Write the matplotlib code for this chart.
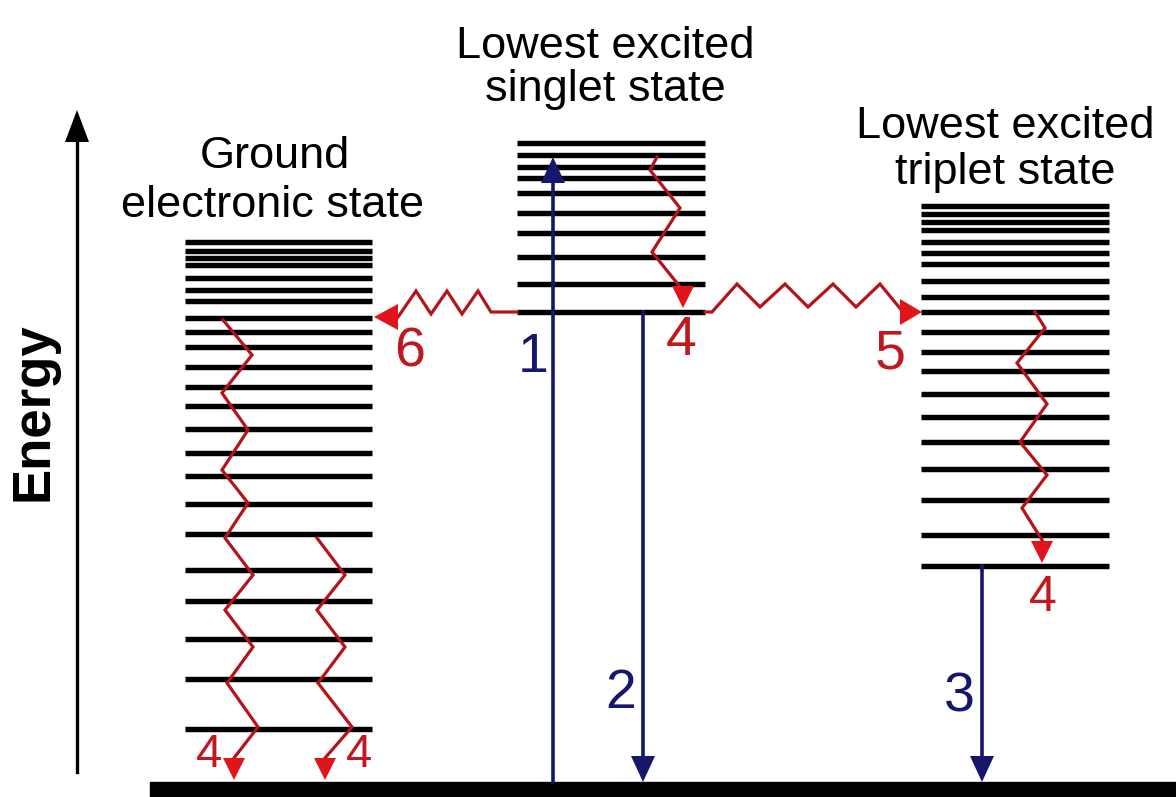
import matplotlib
matplotlib.use('Agg')
import matplotlib.pyplot as plt

# ---------------- data (pixel rows of the picture, top = 0) ----------------
ground_levels = [242, 251, 258, 265, 278, 290, 301, 318, 332, 347, 367, 387,
                 406, 429, 453, 476, 504, 534, 570, 601, 639, 679, 729]
singlet_levels = [143, 155, 167, 178, 193, 213, 233, 257, 284, 312]
triplet_levels = [206, 214, 222, 230, 242, 253, 264, 281, 297, 312, 332, 352,
                  371, 394, 417, 442, 469, 500, 535, 566]
ground_span = (185, 372)
singlet_span = (517, 705)
triplet_span = (921, 1109)

# title lines: text, x centre, baseline row
state_titles = [("Lowest excited", 605, 58), ("singlet state", 605, 101),
                ("Ground", 275, 168), ("electronic state", 273, 217),
                ("Lowest excited", 1005, 138), ("triplet state", 1005, 184)]

# radiative transitions: x, start row, end row, label, label x, label y
radiative = [(553, 782, 157, "1", 533, 358),
             (643, 312, 782, "2", 621, 694),
             (982, 566, 782, "3", 959, 698)]

# non-radiative (wavy) paths
wave_singlet = [(657, 157), (650, 170), (680, 208), (652, 252), (681, 288)]
wave_isc = [(705, 312), (712, 312), (737, 284), (760, 307), (785, 284), (808, 307),
            (833, 284), (856, 307), (880, 284), (903, 312)]
wave_ic = [(517, 312), (491, 312), (478, 291), (462, 314), (447, 291), (431, 314),
           (416, 291), (398, 317)]
wave_ground1 = [(223, 320), (252, 355), (222, 393), (248, 430), (222, 470), (248, 503),
                (225, 538), (253, 575), (225, 610), (253, 647), (227, 683), (258, 727),
                (234, 758)]
wave_ground2 = [(317, 538), (345, 575), (317, 610), (345, 647), (318, 683), (352, 727),
                (325, 758)]
wave_triplet = [(1035, 312), (1045, 328), (1017, 363), (1047, 404), (1020, 442),
                (1047, 475), (1022, 508), (1042, 540)]

red_labels = [("4", 681, 341, 40), ("5", 890, 354, 40), ("6", 410, 352, 40),
              ("4", 1043, 598, 36), ("4", 209, 755, 34), ("4", 359, 755, 34)]

# ---------------- styles ----------------
NAVY = '#16166a'
WAVE = '#b3141c'
HEAD = '#e0141a'
LBL_RED = '#c0181e'
FONT = ['Liberation Sans', 'DejaVu Sans']

fig = plt.figure(figsize=(11.76, 7.97), dpi=100)
ax = fig.add_axes([0, 0, 1, 1])
ax.set_xlim(0, 1176)
ax.set_ylim(797, 0)
ax.axis('off')


def head(tipx, tipy, direction, color, w=22, l=22):
    if direction == 'down':
        xs = [tipx - w / 2, tipx + w / 2, tipx]
        ys = [tipy - l, tipy - l, tipy]
    elif direction == 'up':
        xs = [tipx - w / 2, tipx + w / 2, tipx]
        ys = [tipy + l, tipy + l, tipy]
    elif direction == 'left':
        xs = [tipx + l, tipx + l, tipx]
        ys = [tipy - w / 2, tipy + w / 2, tipy]
    else:
        xs = [tipx - l, tipx - l, tipx]
        ys = [tipy - w / 2, tipy + w / 2, tipy]
    ax.fill(xs, ys, color=color, zorder=6, lw=0)


# energy levels
for levels, (x0, x1) in [(ground_levels, ground_span), (singlet_levels, singlet_span),
                         (triplet_levels, triplet_span)]:
    ax.hlines(levels, x0, x1, color='black', lw=3.9, zorder=2)

# baseline bar
ax.axhspan(782, 797, xmin=150 / 1176, xmax=1, color='black', zorder=3)

# energy axis
ax.plot([77, 77], [772, 135], color='black', lw=2.4, zorder=3)
head(77, 110, 'up', 'black', w=24, l=32)
ax.text(34, 412, "Energy", rotation=90, ha='center', va='center',
        fontsize=38, fontweight='bold', family=FONT, color='black')

# titles
for txt, x, y in state_titles:
    ax.text(x, y, txt, ha='center', va='baseline', fontsize=32.5, family=FONT,
            color='black')

# radiative arrows
for x, y0, y1, lab, lx, ly in radiative:
    if y1 < y0:
        ax.plot([x, x], [y0, y1 + 20], color=NAVY, lw=2.6, zorder=4)
        head(x, y1, 'up', NAVY, w=24, l=26)
    else:
        ax.plot([x, x], [y0, y1 - 20], color=NAVY, lw=2.6, zorder=4)
        head(x, y1, 'down', NAVY, w=24, l=26)
    ax.text(lx, ly, lab, ha='center', va='center', fontsize=40, family=FONT, color=NAVY)

# wavy paths
for path in [wave_singlet, wave_isc, wave_ic, wave_ground1, wave_ground2, wave_triplet]:
    xs = [p[0] for p in path]
    ys = [p[1] for p in path]
    ax.plot(xs, ys, color=WAVE, lw=2.3, zorder=5, solid_joinstyle='miter')

head(683, 308, 'down', HEAD)
head(922, 312, 'right', HEAD, w=26, l=22)
head(374, 317, 'left', HEAD, w=26, l=24)
head(234, 780, 'down', HEAD)
head(325, 780, 'down', HEAD)
head(1042, 563, 'down', HEAD)

for txt, x, y, fs in red_labels:
    ax.text(x, y, txt, ha='center', va='center', fontsize=fs, family=FONT, color=LBL_RED)

fig.savefig('out.png', dpi=100)
